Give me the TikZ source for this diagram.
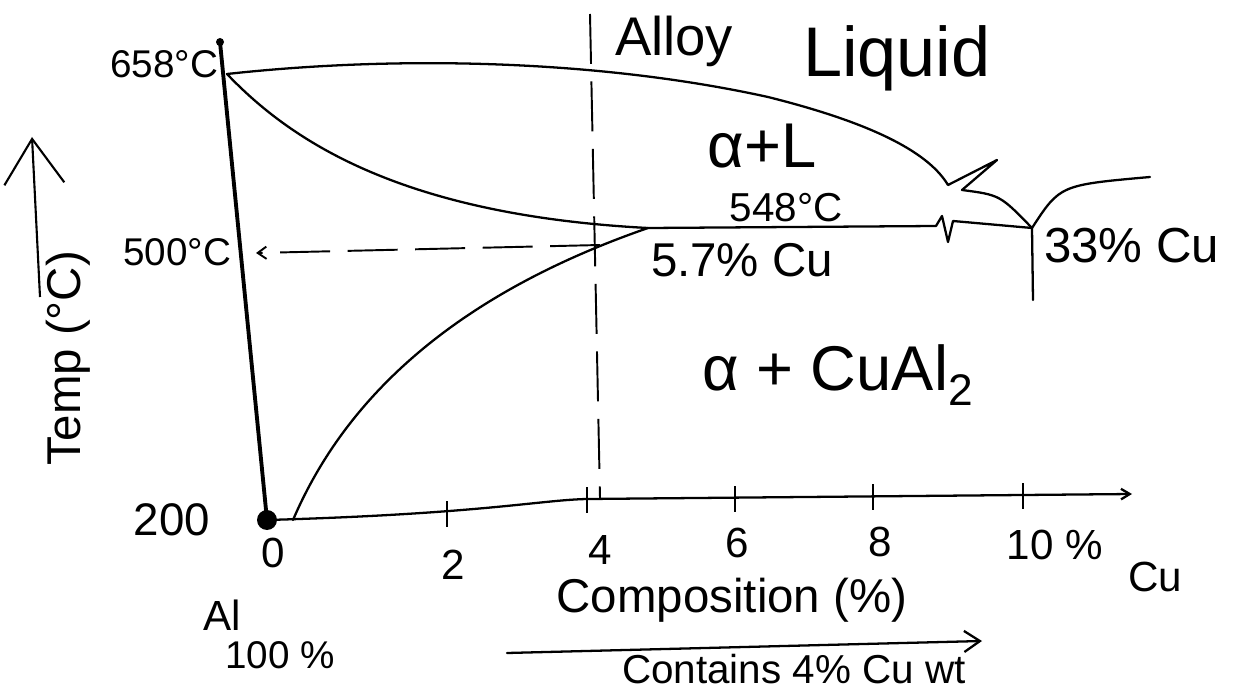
\documentclass[tikz,border=0pt]{standalone}
\usepackage{fontspec}
\setmainfont{Liberation Sans}
\usetikzlibrary{arrows.meta}
\begin{document}
\begin{tikzpicture}[x=0.02cm, y=-0.02cm,
    txt/.style={font=\fontsize{#1}{#1}\selectfont, inner sep=1pt},
    curve/.style={line width=1.3pt, line cap=round, line join=round},
    guide/.style={line width=1.1pt, dash pattern=on 1cm off 0.35cm}]
    \useasboundingbox (0,0) rectangle (1235,696);

    % axes
    \coordinate (ytop) at (220,42);
    \coordinate (origin) at (267,520);
    \coordinate (x4) at (587,499);
    \coordinate (xend) at (1132,494);
    \draw[line width=2.2pt] (ytop) -- (origin);
    \fill (ytop) circle[radius=0.08cm];
    \fill (origin) circle[radius=0.2cm];
    \draw[curve, -{Straight Barb[length=5pt,width=6pt]}] (origin) .. controls (480,514) and (540,500) .. (x4) -- (xend);
    \foreach \x/\y in {447/513, 587/499, 735/498, 873/496, 1023/495}
        \draw[line width=1pt] (\x,\y-12) -- (\x,\y+14);

    \node[txt=24] (n0) at (273,553) {0};
    \node[txt=24] (n2) at (453,565) {2};
    \node[txt=24] (n4) at (600,550) {4};
    \node[txt=24] (n6) at (737,543) {6};
    \node[txt=24] (n8) at (880,542) {8};
    \node[txt=24] (n10) at (1055,545) {10 \%};
    \node[txt=24] (ncu) at (1155,577) {Cu};
    \node[txt=24] (nal) at (222,615) {Al};
    \node[txt=22] (n100) at (280,655) {100 \%};

    \node[txt=22] (t658) at (164,64) {658°C};
    \node[txt=22] (t500) at (177,252) {500°C};
    \node[txt=26] (t200) at (172,520) {200};

    % temperature label
    \node[txt=27, rotate=90] (ylabel) at (68,358) {Temp (°C)};
    \coordinate (yarr0) at (40,297);
    \coordinate (yarr1) at (32,137);
    \draw[line width=1.2pt, -{Straight Barb[length=0.9cm,width=1.2cm]}] (yarr0) -- (yarr1);

    % composition label
    \node[txt=27] (comp) at (732,600) {Composition (\%)};
    \coordinate (compa) at (507,653);
    \coordinate (compb) at (982,641);
    \draw[curve, -{Straight Barb[length=9pt,width=12pt]}] (compa) -- (compb);
    \node[txt=23, anchor=base west] (contains) at (620,683) {Contains 4\% Cu wt};

    % alloy line and 500 line
    \coordinate (alloytop) at (590,14);
    \coordinate (alloybot) at (600,498);
    \draw[guide] (alloytop) -- (alloybot);
    \node[txt=31, anchor=base west] (alloy) at (613,56) {Alloy};
    \coordinate (d500a) at (600,245);
    \coordinate (d500b) at (256,253);
    \draw[guide, -{Straight Barb[length=5pt,width=7pt]}] (d500a) -- (d500b);

    % phase boundaries
    \coordinate (tm) at (227,74);
    \coordinate (solv) at (648,228);
    \coordinate (solvfoot) at (293,520);
    \coordinate (brk) at (936,226);
    \coordinate (eut) at (1032,228);
    \coordinate (eutlow) at (1033,300);
    \coordinate (liqmid) at (768,97);
    \coordinate (liqend) at (948,185);
    \coordinate (brkmark) at (997,160);
    \coordinate (liqres) at (962,190);
    \coordinate (liqright) at (1150,177);

    \draw[curve] (tm) .. controls (400,55) and (600,60) .. (liqmid) .. controls (880,125) and (930,155) .. (liqend) -- (brkmark) -- (liqres) .. controls (1000,195) .. (eut);
    \draw[curve] (eut) .. controls (1060,185) .. (liqright);
    \draw[curve] (tm) .. controls (290,140) and (400,215) .. (solv) -- (brk) -- ++(6,-10) -- ++(6,26) -- ++(5,-21) -- (eut);
    \draw[curve] (solvfoot) .. controls (340,410) and (440,300) .. (solv);
    \draw[curve] (eut) -- (eutlow);

    % region labels
    \node[txt=40, anchor=base west] (liquid) at (801,77) {Liquid};
    \node[txt=36, anchor=base] (alphal) at (762,168) {α+L};
    \node[txt=23, anchor=base] (t548) at (786,221) {548°C};
    \node[txt=27, anchor=base] (t57) at (742,276) {5.7\% Cu};
    \node[txt=28, anchor=base west] (t33) at (1042,262) {33\% Cu};
    \node[txt=36, anchor=base] (phase) at (838,390) {α + CuAl\textsubscript{2}};
\end{tikzpicture}
\end{document}
